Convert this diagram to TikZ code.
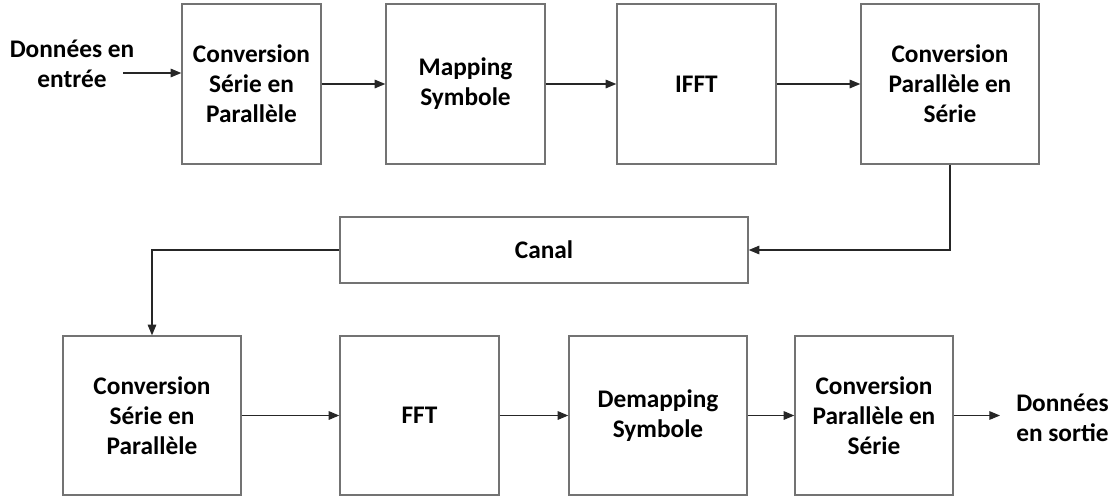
\documentclass[tikz,border=0pt]{standalone}
\usepackage{fontspec}
\setmainfont{Carlito}
\usetikzlibrary{arrows.meta}
\begin{document}
\begin{tikzpicture}[x=0.75pt,y=-0.75pt,
  box/.style={draw=black!55, line width=1.1pt, fill=white, inner sep=0pt, align=center,
    font=\bfseries\fontsize{19}{22.5}\selectfont},
  lbl/.style={inner sep=0pt, font=\bfseries\fontsize{19}{22.5}\selectfont},
  arr/.style={draw=black!85, line width=0.8pt, -{Triangle[length=8pt,width=6.5pt]}}]
\useasboundingbox (0,0) rectangle (1115,497);
% top row
\node[box, minimum width=139*0.75pt, minimum height=160*0.75pt] (b1) at (251.5,84) {Conversion\\Série en\\Parallèle};
\node[box, minimum width=159*0.75pt, minimum height=160*0.75pt] (b2) at (465.5,84) {Mapping\\Symbole};
\node[box, minimum width=159*0.75pt, minimum height=160*0.75pt] (b3) at (696.5,84) {IFFT};
\node[box, minimum width=178*0.75pt, minimum height=160*0.75pt] (b4) at (950,84) {Conversion\\Parallèle en\\Série};
% canal
\node[box, minimum width=408*0.75pt, minimum height=66*0.75pt] (canal) at (544,250) {Canal};
% bottom row
\node[box, minimum width=178*0.75pt, minimum height=159*0.75pt] (b5) at (152,415.5) {Conversion\\Série en\\Parallèle};
\node[box, minimum width=159*0.75pt, minimum height=159*0.75pt] (b6) at (419.5,415.5) {FFT};
\node[box, minimum width=178*0.75pt, minimum height=159*0.75pt] (b7) at (658,415.5) {Demapping\\Symbole};
\node[box, minimum width=158*0.75pt, minimum height=159*0.75pt] (b8) at (874,415.5) {Conversion\\Parallèle en\\Série};
% labels
\node[lbl, align=center] (in) at (72,64) {Données en\\entrée};
\node[lbl, align=left, anchor=west] (out) at (1016,418) {Données\\en sortie};
\coordinate (inS) at (123,73);
\coordinate (outE) at (1000,415.5);
% connectors
\draw[arr] (inS) -- (inS -| b1.west);
\draw[arr] (b1) -- (b2);
\draw[arr] (b2) -- (b3);
\draw[arr] (b3) -- (b4);
\draw[arr] (b4.south) |- (canal.east);
\draw[arr] (canal.west) -| (b5.north);
\draw[arr] (b5) -- (b6);
\draw[arr] (b6) -- (b7);
\draw[arr] (b7) -- (b8);
\draw[arr] (b8.east) -- (outE);
\end{tikzpicture}
\end{document}
